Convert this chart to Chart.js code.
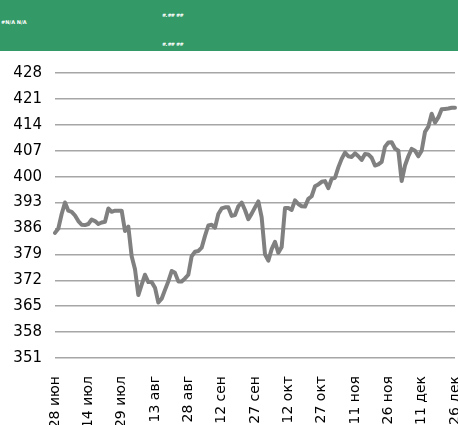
<!DOCTYPE html>
<html>
<head>
<meta charset="utf-8">
<script src="https://cdn.jsdelivr.net/npm/chart.js@4"></script>
<style>
  body { margin: 0; background: #fff; font-family: "DejaVu Sans", sans-serif; }
  #wrap { position: relative; width: 458px; height: 425px; overflow: hidden; }
  #head { position: absolute; left: 0; top: 0; width: 458px; height: 51px; background: #339966; color: #fff; font-size: 5px; font-weight: bold; }
  #head span { position: absolute; white-space: nowrap; line-height: 6px; }
  #box { position: absolute; left: 0; top: 51px; width: 458px; height: 374px; }
</style>
</head>
<body>
<div id="wrap">
  <div id="head">
    <span style="left:1px;top:19px">#N/A N/A</span>
    <span style="left:162px;top:12px;font-style:italic">#.## ##</span>
    <span style="left:162px;top:41px;font-style:italic">#.## ##</span>
  </div>
  <div id="box"><canvas id="priceChart"></canvas></div>
</div>
<script>
const tickLabels = ["28 июн", "14 июл", "29 июл", "13 авг", "28 авг", "12 сен", "27 сен",
  "12 окт", "27 окт", "11 ноя", "26 ноя", "11 дек", "26 дек"];

const yTicks = [351, 358, 365, 372, 379, 386, 393, 400, 407, 414, 421, 428];

// one value per trading day
const prices = [
  384.8, 386.0, 389.9, 393.0, 390.8, 390.5, 389.5, 388.0, 387.0, 386.9,
  387.2, 388.4, 388.0, 387.2, 387.6, 387.8, 391.4, 390.5, 390.8, 390.8,
  390.8, 385.3, 386.5, 378.5, 375.0, 368.0, 370.8, 373.5, 371.5, 371.5,
  370.0, 366.0, 367.0, 369.4, 371.7, 374.5, 374.0, 371.7, 371.7, 372.5,
  373.5, 378.5, 379.7, 379.9, 380.8, 384.0, 386.8, 387.0, 386.2, 389.9,
  391.4, 391.7, 391.7, 389.4, 389.6, 392.0, 393.0, 391.0, 388.5, 390.0,
  391.7, 393.3, 389.0, 379.0, 377.3, 380.4, 382.4, 379.4, 381.0, 391.5,
  391.5, 391.0, 393.6, 392.6, 392.0, 391.9, 394.0, 394.7, 397.4, 397.9,
  398.6, 398.8, 396.9, 399.4, 399.7, 402.5, 404.8, 406.5, 405.5, 405.3,
  406.3, 405.5, 404.5, 406.1, 406.0, 405.1, 403.0, 403.3, 404.0, 408.1,
  409.2, 409.3, 407.6, 407.0, 398.8, 403.0, 405.5, 407.5, 407.0, 405.5,
  407.0, 412.1, 413.5, 417.0, 414.6, 416.0, 418.2, 418.3, 418.4, 418.6,
  418.6
];

const labels = prices.map((v, i) => (i % 10 === 0 ? tickLabels[i / 10] : ""));

const ctx = document.getElementById("priceChart");

new Chart(ctx, {
  type: "line",
  data: {
    labels: labels,
    datasets: [
      {
        data: prices,
        borderColor: "#808080",
        borderWidth: 4,
        borderJoinStyle: "round",
        borderCapStyle: "round",
        pointRadius: 0,
        tension: 0,
        fill: false,
      },
    ],
  },
  options: {
    responsive: true,
    maintainAspectRatio: false,
    animation: false,
    layout: { padding: { top: 22, right: 3, left: 0, bottom: 0 } },
    scales: {
      x: {
        grid: { display: false },
        border: { display: false },
        ticks: {
          autoSkip: false,
          maxRotation: 90,
          minRotation: 90,
          padding: 10,
          color: "#000",
          font: { family: "DejaVu Sans", size: 14 },
        },
        afterFit: (scale) => {
          scale.height = 67;
          scale.paddingLeft = 0;
          scale.paddingRight = 0;
        },
      },
      y: {
        min: 351,
        max: 428,
        afterBuildTicks: (scale) => { scale.ticks = yTicks.map((v) => ({ value: v })); },
        grid: { color: "#a6a6a6", lineWidth: 1.5, drawTicks: false },
        border: { display: false },
        ticks: {
          padding: 13,
          color: "#000",
          font: { family: "DejaVu Sans", size: 15 },
        },
        afterFit: (scale) => {
          scale.width = 55;
          scale.paddingTop = 0;
          scale.paddingBottom = 0;
        },
      },
    },
    plugins: {
      legend: { display: false },
      tooltip: { enabled: false },
    },
  },
});
</script>
</body>
</html>
